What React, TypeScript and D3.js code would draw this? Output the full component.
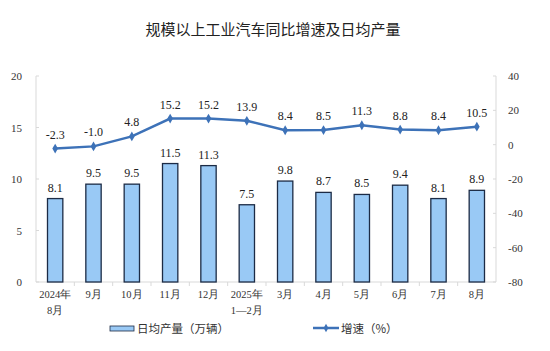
import React, { useEffect, useRef } from "react";
import * as d3 from "d3";

// categories (second line of label after "|")
const months = ["2024年|8月", "9月", "10月", "11月", "12月", "2025年|1—2月", "3月", "4月", "5月", "6月", "7月", "8月"];
const dailyOutput = [8.1, 9.5, 9.5, 11.5, 11.3, 7.5, 9.8, 8.7, 8.5, 9.4, 8.1, 8.9];
const growth = [-2.3, -1.0, 4.8, 15.2, 15.2, 13.9, 8.4, 8.5, 11.3, 8.8, 8.4, 10.5];
const leftTicks = [0, 5, 10, 15, 20];
const rightTicks = [-80, -60, -40, -20, 0, 20, 40];

const W = 550;
const H = 351;
const margin = { top: 76, right: 54, bottom: 69, left: 36 };

const serif = "'Liberation Serif', 'Times New Roman', serif";
const cjk = "'Noto Sans CJK SC', sans-serif";

function Chart() {
  const ref = useRef<SVGSVGElement>(null);

  useEffect(() => {
    const svg = d3.select(ref.current);
    svg.selectAll("*").remove();

    const x = d3
      .scaleBand()
      .domain(months)
      .range([margin.left, W - margin.right])
      .paddingInner(0.6)
      .paddingOuter(0.3);
    const yL = d3.scaleLinear().domain([0, 20]).range([H - margin.bottom, margin.top]);
    const yR = d3.scaleLinear().domain([-80, 40]).range([H - margin.bottom, margin.top]);

    const band = (W - margin.left - margin.right) / months.length;
    const cx = (_: string, i: number) => margin.left + band * (i + 0.5);
    const bw = band * 0.4;

    // title
    svg
      .append("text")
      .attr("x", 273)
      .attr("y", 35)
      .attr("text-anchor", "middle")
      .attr("font-family", cjk)
      .attr("font-size", 15)
      .attr("fill", "#222")
      .text("规模以上工业汽车同比增速及日均产量");

    // axes lines
    const axisCol = "#d9d9d9";
    svg.append("line").attr("x1", margin.left).attr("x2", margin.left)
      .attr("y1", margin.top).attr("y2", H - margin.bottom).attr("stroke", axisCol);
    svg.append("line").attr("x1", W - margin.right).attr("x2", W - margin.right)
      .attr("y1", margin.top).attr("y2", H - margin.bottom).attr("stroke", axisCol);
    svg.append("line").attr("x1", margin.left).attr("x2", W - margin.right)
      .attr("y1", H - margin.bottom).attr("y2", H - margin.bottom).attr("stroke", axisCol);

    // category separators
    months.forEach((_, i) => {
      if (i === 0) return;
      const xx = margin.left + band * i;
      svg.append("line").attr("x1", xx).attr("x2", xx)
        .attr("y1", H - margin.bottom).attr("y2", H - margin.bottom + 4).attr("stroke", axisCol);
    });

    // left ticks
    leftTicks.forEach((t) => {
      svg.append("line").attr("x1", margin.left).attr("x2", margin.left + 3)
        .attr("y1", yL(t)).attr("y2", yL(t)).attr("stroke", axisCol);
      svg.append("text")
        .attr("x", 22).attr("y", yL(t) + 4)
        .attr("text-anchor", "end")
        .attr("font-family", serif).attr("font-size", 11).attr("fill", "#333")
        .text(t);
    });

    // right ticks
    rightTicks.forEach((t) => {
      svg.append("line").attr("x1", W - margin.right - 3).attr("x2", W - margin.right)
        .attr("y1", yR(t)).attr("y2", yR(t)).attr("stroke", axisCol);
      svg.append("text")
        .attr("x", 508).attr("y", yR(t) + 4)
        .attr("text-anchor", "start")
        .attr("font-family", serif).attr("font-size", 11).attr("fill", "#333")
        .text(t);
    });

    // bars
    svg.selectAll(".bar")
      .data(dailyOutput)
      .enter()
      .append("rect")
      .attr("class", "bar")
      .attr("x", (_, i) => cx("", i) - bw / 2)
      .attr("y", (d) => yL(d))
      .attr("width", bw)
      .attr("height", (d) => yL(0) - yL(d))
      .attr("fill", "#99c9f5")
      .attr("stroke", "#1c2b45")
      .attr("stroke-width", 1.3);

    svg.selectAll(".barlabel")
      .data(dailyOutput)
      .enter()
      .append("text")
      .attr("x", (_, i) => cx("", i))
      .attr("y", (d) => yL(d) - 7)
      .attr("text-anchor", "middle")
      .attr("font-family", serif).attr("font-size", 12).attr("fill", "#222")
      .text((d) => d.toFixed(1));

    // line
    const lineCol = "#3d72b8";
    const line = d3.line<number>()
      .x((_, i) => cx("", i))
      .y((d) => yR(d));
    svg.append("path")
      .datum(growth)
      .attr("d", line)
      .attr("fill", "none")
      .attr("stroke", lineCol)
      .attr("stroke-width", 2.5);

    const diamond = d3.symbol().type(d3.symbolDiamond).size(28);
    svg.selectAll(".pt")
      .data(growth)
      .enter()
      .append("path")
      .attr("d", diamond)
      .attr("transform", (d, i) => `translate(${cx("", i)},${yR(d)})`)
      .attr("fill", lineCol);

    svg.selectAll(".linelabel")
      .data(growth)
      .enter()
      .append("text")
      .attr("x", (_, i) => cx("", i))
      .attr("y", (d) => yR(d) - 10)
      .attr("text-anchor", "middle")
      .attr("font-family", serif).attr("font-size", 12).attr("fill", "#222")
      .text((d) => d.toFixed(1));

    // x labels
    months.forEach((m, i) => {
      const parts = m.split("|");
      parts.forEach((p, j) => {
        svg.append("text")
          .attr("x", cx("", i))
          .attr("y", 298 + j * 16)
          .attr("text-anchor", "middle")
          .attr("font-family", serif).attr("font-size", 10.5).attr("fill", "#333")
          .text(p);
      });
    });

    // legend
    svg.append("rect").attr("x", 110).attr("y", 326).attr("width", 24).attr("height", 5)
      .attr("fill", "#99c9f5").attr("stroke", "#1c2b45").attr("stroke-width", 0.8);
    svg.append("text").attr("x", 137).attr("y", 333)
      .attr("font-family", cjk).attr("font-size", 11.5).attr("fill", "#333")
      .text("日均产量（万辆）");
    svg.append("line").attr("x1", 313).attr("x2", 339).attr("y1", 328).attr("y2", 328)
      .attr("stroke", lineCol).attr("stroke-width", 2.5);
    svg.append("path").attr("d", d3.symbol().type(d3.symbolDiamond).size(20))
      .attr("transform", "translate(326,328)").attr("fill", lineCol);
    svg.append("text").attr("x", 341).attr("y", 333)
      .attr("font-family", cjk).attr("font-size", 11.5).attr("fill", "#333")
      .text("增速（%）");
  }, []);

  return <svg ref={ref} width={W} height={H} style={{ display: "block" }} />;
}

export default function App() {
  return (
    <div style={{ position: "absolute", left: 0, top: 0, background: "#fff" }}>
      <Chart />
    </div>
  );
}
